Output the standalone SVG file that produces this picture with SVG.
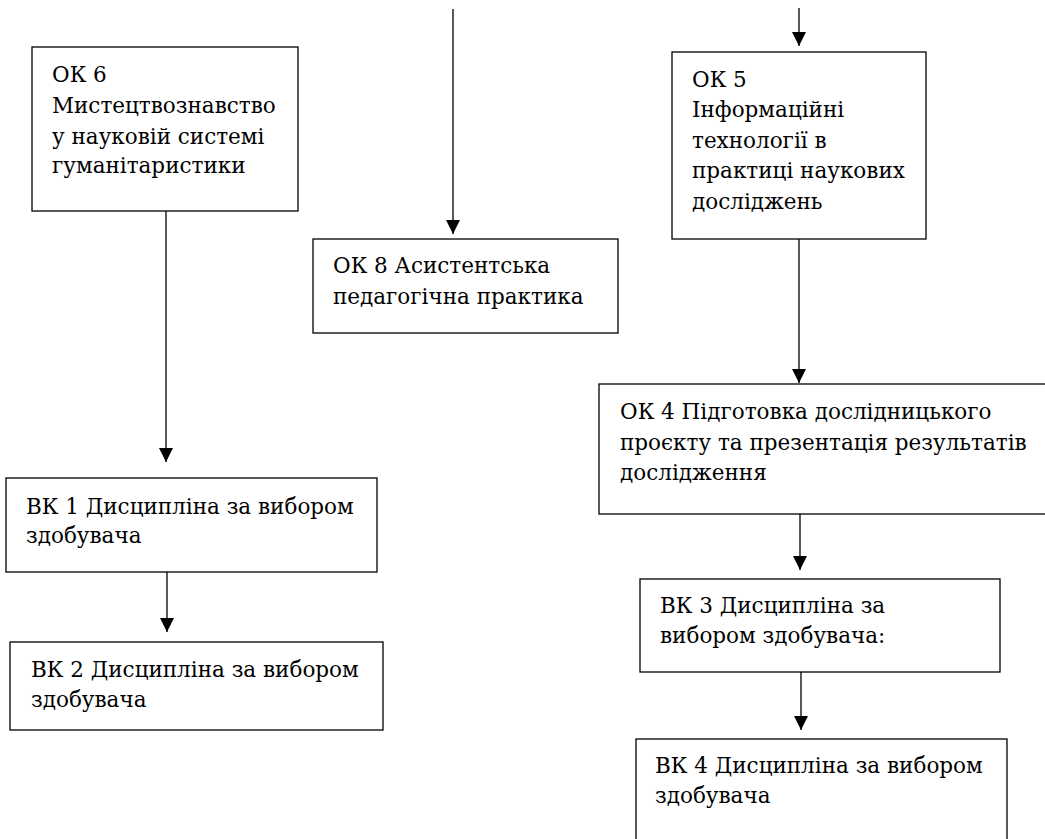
<svg xmlns="http://www.w3.org/2000/svg" width="1045" height="839" viewBox="0 0 1045 839">
<style>
.box{fill:#fff;stroke:#000;stroke-width:1.3}
.c{stroke:#000;stroke-width:1.3;fill:none}
.t{font-family:'DejaVu Serif','Liberation Serif',serif;font-size:21.5px;fill:#000}
</style>
<defs>
<marker id="ah" viewBox="0 0 14 14" refX="14" refY="7" markerWidth="14" markerHeight="14" markerUnits="userSpaceOnUse" orient="auto">
<path d="M0,0 L14,7 L0,14 Z" fill="#000"/>
</marker>
</defs>
<rect width="1045" height="839" fill="#fff"/>
<g id="connectors">
<line class="c" x1="166" y1="211" x2="166" y2="462" marker-end="url(#ah)"/>
<line class="c" x1="167" y1="572" x2="167" y2="632" marker-end="url(#ah)"/>
<line class="c" x1="453" y1="9" x2="453" y2="234" marker-end="url(#ah)"/>
<line class="c" x1="799" y1="8" x2="799" y2="46" marker-end="url(#ah)"/>
<line class="c" x1="799" y1="239" x2="799" y2="383" marker-end="url(#ah)"/>
<line class="c" x1="800" y1="514" x2="800" y2="570" marker-end="url(#ah)"/>
<line class="c" x1="801" y1="672" x2="801" y2="730" marker-end="url(#ah)"/>
</g>
<g id="ok6">
<rect class="box" x="32" y="47" width="266" height="164"/>
<text class="t" x="52" y="82">ОК 6</text>
<text class="t" x="52" y="113">Мистецтвознавство</text>
<text class="t" x="52" y="144">у науковій системі</text>
<text class="t" x="52" y="173">гуманітаристики</text>
</g>
<g id="ok8">
<rect class="box" x="313" y="239" width="305" height="94"/>
<text class="t" x="333" y="273">ОК 8 Асистентська</text>
<text class="t" x="333" y="304">педагогічна практика</text>
</g>
<g id="ok5">
<rect class="box" x="672" y="52" width="254" height="187"/>
<text class="t" x="692" y="87">ОК 5</text>
<text class="t" x="692" y="117">Інформаційні</text>
<text class="t" x="692" y="148">технології в</text>
<text class="t" x="692" y="178">практиці наукових</text>
<text class="t" x="692" y="209">досліджень</text>
</g>
<g id="ok4">
<rect class="box" x="599" y="384" width="460" height="130"/>
<text class="t" x="620" y="419">ОК 4 Підготовка дослідницького</text>
<text class="t" x="620" y="450">проєкту та презентація результатів</text>
<text class="t" x="620" y="480">дослідження</text>
</g>
<g id="vk1">
<rect class="box" x="6" y="478" width="371" height="94"/>
<text class="t" x="26" y="514">ВК 1 Дисципліна за вибором</text>
<text class="t" x="26" y="543">здобувача</text>
</g>
<g id="vk2">
<rect class="box" x="10" y="642" width="373" height="88"/>
<text class="t" x="31" y="677">ВК 2 Дисципліна за вибором</text>
<text class="t" x="31" y="707">здобувача</text>
</g>
<g id="vk3">
<rect class="box" x="640" y="579" width="360" height="93"/>
<text class="t" x="660" y="613">ВК 3 Дисципліна за</text>
<text class="t" x="660" y="643">вибором здобувача:</text>
</g>
<g id="vk4">
<rect class="box" x="636" y="739" width="371" height="120"/>
<text class="t" x="655" y="773">ВК 4 Дисципліна за вибором</text>
<text class="t" x="655" y="803">здобувача</text>
</g>
</svg>
